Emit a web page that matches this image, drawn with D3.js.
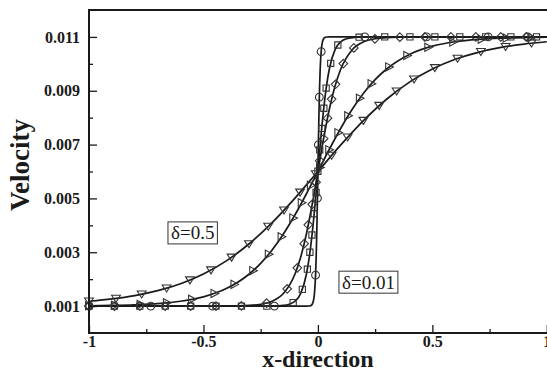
<!DOCTYPE html>
<html>
<head>
<meta charset="utf-8">
<script src="https://cdn.jsdelivr.net/npm/d3@7"></script>
<style>
  html, body { margin: 0; padding: 0; background: #fff; }
  svg { display: block; }
</style>
</head>
<body>
<div id="chart"></div>
<script>
/* ── Data ─────────────────────────────────────────────────────── */

const xTicks = [-1, -0.5, 0, 0.5, 1];
const xTickLabels = ['-1', '-0.5', '0', '0.5', '1'];
const xMinorTicks = [-0.75, -0.25, 0.25, 0.75];
const yTicks = [0.001, 0.003, 0.005, 0.007, 0.009, 0.011];
const yTickLabels = ['0.001', '0.003', '0.005', '0.007', '0.009', '0.011'];
const yMinorTicks = [0.002, 0.004, 0.006, 0.008, 0.010];

// solid curves
const lineX_d050 = [-1, -0.9, -0.8, -0.7, -0.6, -0.5, -0.4, -0.3, -0.2, -0.1, 0, 0.1, 0.2, 0.3, 0.4, 0.5, 0.6, 0.7, 0.8, 0.9, 1];
const lineV_d050 = [0.00118, 0.001266, 0.001391, 0.001573, 0.001831, 0.002192, 0.00268, 0.003315, 0.0041, 0.005013, 0.006, 0.006987, 0.0079, 0.008685, 0.00932, 0.009808, 0.010169, 0.010427, 0.010609, 0.010734, 0.01082];

const lineX_d030 = [-1, -0.9, -0.8, -0.7, -0.6, -0.5, -0.4, -0.3, -0.25, -0.2, -0.15, -0.1, -0.05, 0, 0.05, 0.1, 0.15, 0.2, 0.25, 0.3, 0.4, 0.5, 0.6, 0.7, 0.8, 0.9, 1];
const lineV_d030 = [0.001013, 0.001024, 0.001048, 0.001093, 0.00118, 0.001344, 0.001649, 0.002192, 0.002589, 0.003086, 0.003689, 0.004392, 0.005174, 0.006, 0.006826, 0.007608, 0.008311, 0.008914, 0.009411, 0.009808, 0.010351, 0.010656, 0.01082, 0.010907, 0.010952, 0.010976, 0.010987];

const lineX_d010 = [-1, -0.5, -0.4, -0.3, -0.25, -0.2, -0.15, -0.1, -0.075, -0.05, -0.025, 0, 0.025, 0.05, 0.075, 0.1, 0.15, 0.2, 0.25, 0.3, 0.4, 0.5, 1];
const lineV_d010 = [0.001, 0.001, 0.001003, 0.001024, 0.001067, 0.00118, 0.001474, 0.002192, 0.002824, 0.003689, 0.004775, 0.006, 0.007225, 0.008311, 0.009176, 0.009808, 0.010526, 0.01082, 0.010933, 0.010976, 0.010997, 0.011, 0.011];

const lineX_d005 = [-1, -0.25, -0.2, -0.15, -0.125, -0.1, -0.075, -0.05, -0.0375, -0.025, -0.0125, 0, 0.0125, 0.025, 0.0375, 0.05, 0.075, 0.1, 0.125, 0.15, 0.2, 0.25, 1];
const lineV_d005 = [0.001, 0.001, 0.001003, 0.001024, 0.001067, 0.00118, 0.001474, 0.002192, 0.002824, 0.003689, 0.004775, 0.006, 0.007225, 0.008311, 0.009176, 0.009808, 0.010526, 0.01082, 0.010933, 0.010976, 0.010997, 0.011, 0.011];

const lineX_d001 = [-1, -0.05, -0.04, -0.03, -0.025, -0.02, -0.015, -0.01, -0.0075, -0.005, -0.0025, 0, 0.0025, 0.005, 0.0075, 0.01, 0.015, 0.02, 0.025, 0.03, 0.04, 0.05, 1];
const lineV_d001 = [0.001, 0.001, 0.001003, 0.001024, 0.001067, 0.00118, 0.001474, 0.002192, 0.002824, 0.003689, 0.004775, 0.006, 0.007225, 0.008311, 0.009176, 0.009808, 0.010526, 0.01082, 0.010933, 0.010976, 0.010997, 0.011, 0.011];

// symbols (numerical points)
const markX_d050 = [-1, -0.882, -0.77, -0.661, -0.559, -0.467, -0.377, -0.301, -0.217, -0.148, -0.078, -0.009, 0.06, 0.13, 0.199, 0.268, 0.344, 0.42, 0.511, 0.61, 0.712, 0.82, 0.933];
const markV_d050 = [0.00118, 0.001285, 0.00144, 0.001664, 0.001967, 0.002338, 0.002812, 0.003308, 0.003957, 0.004562, 0.005227, 0.00591, 0.006597, 0.007272, 0.007891, 0.00845, 0.008984, 0.009429, 0.009853, 0.010198, 0.010452, 0.010638, 0.010766];

const markX_d030 = [-1, -0.887, -0.775, -0.66, -0.55, -0.452, -0.365, -0.283, -0.215, -0.159, -0.108, -0.071, -0.031, 0.009, 0.049, 0.089, 0.132, 0.183, 0.234, 0.311, 0.39, 0.482, 0.591, 0.715, 0.824, 0.933];
const markV_d030 = [0.001013, 0.001027, 0.001057, 0.001122, 0.00125, 0.001469, 0.001807, 0.002316, 0.002927, 0.003573, 0.004274, 0.004838, 0.005485, 0.00615, 0.00681, 0.007442, 0.008068, 0.008721, 0.009264, 0.009883, 0.010309, 0.010613, 0.010809, 0.010916, 0.010959, 0.01098];

const markX_d010 = [-1, -0.889, -0.778, -0.667, -0.556, -0.445, -0.334, -0.224, -0.134, -0.09, -0.06, -0.042, -0.025, -0.008, 0.008, 0.025, 0.042, 0.06, 0.077, 0.111, 0.157, 0.249, 0.358, 0.467, 0.581, 0.69, 0.799, 0.91];
const markV_d010 = [0.001, 0.001, 0.001, 0.001, 0.001, 0.001, 0.00101, 0.00111, 0.00164, 0.00242, 0.00332, 0.00402, 0.00478, 0.0056, 0.0064, 0.00722, 0.00798, 0.00869, 0.00924, 0.01001, 0.01059, 0.01093, 0.01099, 0.011, 0.011, 0.011, 0.011, 0.011];

const markX_d005 = [-1, -0.889, -0.778, -0.667, -0.556, -0.445, -0.334, -0.223, -0.108, -0.068, -0.046, -0.035, -0.026, -0.016, -0.008, 0, 0.008, 0.017, 0.026, 0.036, 0.056, 0.087, 0.18, 0.292, 0.402, 0.511, 0.62, 0.733, 0.843, 0.955];
const markV_d005 = [0.001, 0.001, 0.001, 0.001, 0.001, 0.001, 0.001, 0.001, 0.00113, 0.00162, 0.00237, 0.003, 0.00364, 0.00443, 0.00522, 0.00601, 0.0068, 0.0076, 0.00835, 0.0091, 0.01002, 0.0107, 0.01099, 0.011, 0.011, 0.011, 0.011, 0.011, 0.011, 0.011];

const markX_d001 = [-1, -0.73, -0.46, -0.19, -0.0102, -0.002, 0.002, 0.0062, 0.0142, 0.205, 0.475, 0.744, 0.917];
const markV_d001 = [0.001, 0.001, 0.001, 0.001, 0.00215, 0.00501, 0.00699, 0.00876, 0.01045, 0.011, 0.011, 0.011, 0.011];

const labels = [
  { text: 'δ=0.5', x: -0.655, v: 0.0037 },
  { text: 'δ=0.01', x: 0.092, v: 0.00187 },
];

/* ── Layout ───────────────────────────────────────────────────── */

const width = 547, height = 370;
const margin = { left: 89, top: 10, right: 0.2, bottom: 37 };
const serif = "'Liberation Serif', 'Times New Roman', serif";
const ink = '#1a1a1a';

const svg = d3.select('#chart').append('svg')
  .attr('width', width)
  .attr('height', height);

const x = d3.scaleLinear().domain([-1, 1]).range([margin.left, width - margin.right]);
const y = d3.scaleLinear().domain([0, 0.012]).range([height - margin.bottom, margin.top]);

/* ── Symbols ──────────────────────────────────────────────────── */

const symbolPath = {
  circle: 'M3.9,0A3.9,3.9 0 1,1 -3.9,0A3.9,3.9 0 1,1 3.9,0Z',
  square: 'M-3.1,-3.1H3.1V3.1H-3.1Z',
  diamond: 'M0,-4.3L4.3,0L0,4.3L-4.3,0Z',
  triRight: 'M4.3,0L-3.4,-4.1L-3.4,4.1Z',
  triDown: 'M0,3.8L-4.4,-3.2L4.4,-3.2Z',
};

const series = [
  { lx: lineX_d050, lv: lineV_d050, mx: markX_d050, mv: markV_d050, sym: 'triDown' },
  { lx: lineX_d030, lv: lineV_d030, mx: markX_d030, mv: markV_d030, sym: 'triRight' },
  { lx: lineX_d010, lv: lineV_d010, mx: markX_d010, mv: markV_d010, sym: 'diamond' },
  { lx: lineX_d005, lv: lineV_d005, mx: markX_d005, mv: markV_d005, sym: 'square' },
  { lx: lineX_d001, lv: lineV_d001, mx: markX_d001, mv: markV_d001, sym: 'circle' },
];

/* ── Curves ───────────────────────────────────────────────────── */

const line = d3.line()
  .x(d => x(d[0]))
  .y(d => y(d[1]))
  .curve(d3.curveMonotoneX);

const plot = svg.append('g');

series.forEach(s => {
  plot.append('path')
    .datum(s.lx.map((xv, i) => [xv, s.lv[i]]))
    .attr('d', line)
    .attr('fill', 'none')
    .attr('stroke', ink)
    .attr('stroke-width', 1.7);
});

series.forEach(s => {
  plot.append('g')
    .selectAll('path')
    .data(s.mx.map((xv, i) => [xv, s.mv[i]]))
    .join('path')
    .attr('transform', d => `translate(${x(d[0])},${y(d[1])})`)
    .attr('d', symbolPath[s.sym])
    .attr('fill', 'none')
    .attr('stroke', '#333')
    .attr('stroke-width', 1.1);
});

/* ── Axes ─────────────────────────────────────────────────────── */

svg.append('g')
  .attr('transform', `translate(${margin.left},0)`)
  .call(d3.axisLeft(y).tickValues(yTicks).tickSize(-8).tickSizeOuter(0).tickPadding(9)
    .tickFormat((d, i) => yTickLabels[i]));
svg.append('g')
  .attr('transform', `translate(${margin.left},0)`)
  .call(d3.axisLeft(y).tickValues(yMinorTicks).tickSize(-4).tickSizeOuter(0).tickFormat(''));

svg.append('g')
  .attr('transform', `translate(0,${height - margin.bottom})`)
  .call(d3.axisBottom(x).tickValues(xTicks).tickSize(-8).tickSizeOuter(0).tickPadding(3)
    .tickFormat((d, i) => xTickLabels[i]));
svg.append('g')
  .attr('transform', `translate(0,${height - margin.bottom})`)
  .call(d3.axisBottom(x).tickValues(xMinorTicks).tickSize(-4).tickSizeOuter(0).tickFormat(''));

svg.selectAll('.domain').remove();
svg.selectAll('.tick line').attr('stroke', ink).attr('stroke-width', 1.3);
svg.selectAll('.tick text')
  .attr('fill', ink)
  .style('font-family', serif)
  .style('font-weight', 'bold')
  .style('font-size', '16px');

// frame: top, left, bottom
const x0 = x.range()[0], x1 = width;
const y0 = y.range()[0], y1 = y.range()[1];
svg.append('path')
  .attr('d', `M${x1},${y1}H${x0}V${y0}H${x1}`)
  .attr('fill', 'none')
  .attr('stroke', ink)
  .attr('stroke-width', 2);

svg.append('text')
  .attr('x', x(0))
  .attr('y', 367)
  .attr('text-anchor', 'middle')
  .attr('fill', ink)
  .style('font-family', serif)
  .style('font-weight', 'bold')
  .style('font-size', '24px')
  .text('x-direction');

svg.append('text')
  .attr('transform', `translate(29,165) rotate(-90)`)
  .attr('text-anchor', 'middle')
  .attr('fill', ink)
  .style('font-family', serif)
  .style('font-weight', 'bold')
  .style('font-size', '27px')
  .text('Velocity');

/* ── Text boxes ───────────────────────────────────────────────── */

labels.forEach(l => {
  const g = svg.append('g').attr('transform', `translate(${x(l.x)},${y(l.v)})`);
  const t = g.append('text')
    .attr('x', 3)
    .attr('y', 6)
    .attr('fill', ink)
    .style('font-family', serif)
    .style('font-size', '19px')
    .text(l.text);
  const bb = t.node().getBBox();
  g.insert('rect', 'text')
    .attr('x', 0)
    .attr('y', bb.y - 0.5)
    .attr('width', bb.width + 6)
    .attr('height', bb.height + 1)
    .attr('fill', '#fff')
    .attr('stroke', '#333')
    .attr('stroke-width', 1);
});
</script>
</body>
</html>
